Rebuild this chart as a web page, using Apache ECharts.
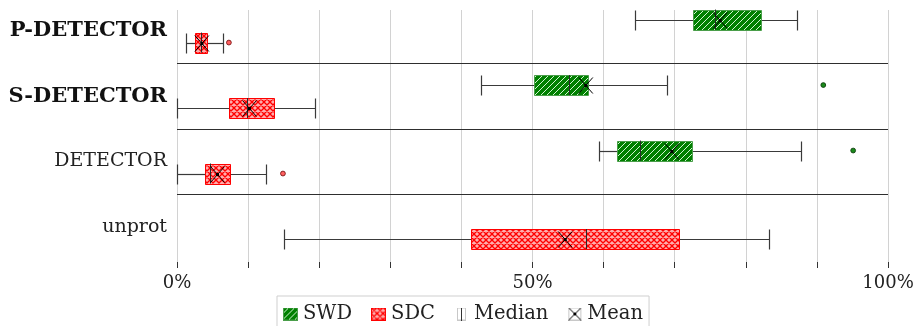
<!DOCTYPE html>
<html>
<head>
<meta charset="utf-8">
<script src="https://cdn.jsdelivr.net/npm/echarts@6/dist/echarts.min.js"></script>
<style>
  html, body { margin: 0; padding: 0; background: #fff; }
  #chart { width: 914px; height: 326px; }
</style>
</head>
<body>
<div id="chart"></div>
<script>
// Rows, top to bottom
const CATEGORIES = ['P-DETECTOR', 'S-DETECTOR', 'DETECTOR', 'unprot'];
const BOLD_CATEGORIES = ['P-DETECTOR', 'S-DETECTOR'];

// Five-number summaries per row: [low whisker, Q1, median, Q3, high whisker] (percent)
const SWD_STATS = [
  [64.4, 72.6, 75.7, 82.1, 87.2],
  [42.7, 50.2, 55.1, 57.8, 68.9],
  [59.4, 61.9, 65.1, 72.4, 87.7],
  null
];
const SWD_MEANS = [76.4, 57.5, 69.6, null];
const SWD_OUTLIERS = [[1, 90.9], [2, 95.1]];

const SDC_STATS = [
  [1.2, 2.5, 3.4, 4.2, 6.4],
  [0.0, 7.3, 9.8, 13.6, 19.4],
  [0.0, 4.0, 4.7, 7.5, 12.5],
  [15.0, 41.4, 57.5, 70.6, 83.2]
];
const SDC_MEANS = [3.5, 10.2, 5.7, 54.6];
const SDC_OUTLIERS = [[0, 7.3], [2, 14.9]];

// Axis labels and row dividers
const X_LABELED_TICKS = [0, 50, 100];
const ROW_DIVIDERS = [0.5, 1.5, 2.5];

const FONT = 'DejaVu Serif';
const BOX_H = 20;            // box height in px
const GROUP_OFFSET = [-11, 12]; // SWD above, SDC below the row centre
const WHISKER = '#3a3a3a';

// ---- fill patterns ----
function hatchCanvas() {
  const c = document.createElement('canvas');
  c.width = 6; c.height = 6;
  const g = c.getContext('2d');
  g.fillStyle = '#008000';
  g.fillRect(0, 0, 6, 6);
  g.strokeStyle = 'rgba(230,255,230,0.9)';
  g.lineWidth = 1;
  g.beginPath();
  g.moveTo(0, 6); g.lineTo(6, 0);
  g.moveTo(-1, 1); g.lineTo(1, -1);
  g.moveTo(5, 7); g.lineTo(7, 5);
  g.stroke();
  return c;
}
function crossCanvas() {
  const c = document.createElement('canvas');
  c.width = 6; c.height = 6;
  const g = c.getContext('2d');
  g.fillStyle = '#ffadad';
  g.fillRect(0, 0, 6, 6);
  g.strokeStyle = '#ff0000';
  g.lineWidth = 1.35;
  g.beginPath();
  g.moveTo(0, 6); g.lineTo(6, 0);
  g.moveTo(0, 0); g.lineTo(6, 6);
  g.moveTo(-1, 1); g.lineTo(1, -1);
  g.moveTo(5, 7); g.lineTo(7, 5);
  g.moveTo(-1, 5); g.lineTo(1, 7);
  g.moveTo(5, -1); g.lineTo(7, 1);
  g.stroke();
  return c;
}
const SWD_FILL = { image: hatchCanvas(), repeat: 'repeat' };
const SDC_FILL = { image: crossCanvas(), repeat: 'repeat' };
const SWD_STROKE = '#4a9e4a';
const SDC_STROKE = '#ff0000';

// ---- legend icons ----
function iconCanvas(draw) {
  const c = document.createElement('canvas');
  c.width = 15; c.height = 13;
  draw(c.getContext('2d'), 15, 13);
  return 'image://' + c.toDataURL();
}
const ICON_SWD = iconCanvas((g, w, h) => {
  g.fillStyle = g.createPattern(hatchCanvas(), 'repeat');
  g.fillRect(0, 0, w, h);
  g.strokeStyle = SWD_STROKE; g.strokeRect(0.5, 0.5, w - 1, h - 1);
});
const ICON_SDC = iconCanvas((g, w, h) => {
  g.fillStyle = g.createPattern(crossCanvas(), 'repeat');
  g.fillRect(0, 0, w, h);
  g.strokeStyle = SDC_STROKE; g.strokeRect(0.5, 0.5, w - 1, h - 1);
});
const ICON_MEDIAN = iconCanvas((g, w, h) => {
  g.fillStyle = '#fff'; g.fillRect(0, 0, w, h);
  g.strokeStyle = '#c8c8c8'; g.strokeRect(3.5, 0.5, w - 7, h - 1);
  g.strokeStyle = '#333'; g.beginPath(); g.moveTo(7.5, 0); g.lineTo(7.5, h); g.stroke();
});
const ICON_MEAN = iconCanvas((g, w, h) => {
  g.fillStyle = '#fff'; g.fillRect(0, 0, w, h);
  g.strokeStyle = '#c8c8c8'; g.strokeRect(1.5, 0.5, w - 3, h - 1);
  g.strokeStyle = '#000'; g.lineWidth = 1;
  g.beginPath(); g.moveTo(1.5, 0.5); g.lineTo(w - 1.5, h - 0.5);
  g.moveTo(w - 1.5, 0.5); g.lineTo(1.5, h - 0.5); g.stroke();
  g.fillStyle = '#000'; g.fillRect(6, 5, 3, 3);
});

// ---- series data built from the arrays above ----
function boxData(stats) {
  const out = [];
  stats.forEach((s, row) => { if (s) out.push([row].concat(s)); });
  return out;
}
function pointData(list, group) {
  const out = [];
  list.forEach((v, row) => { if (v != null) out.push([row, v, group]); });
  return out;
}
const medianData = pointData(SWD_STATS.map(s => s ? s[2] : null), 0)
  .concat(pointData(SDC_STATS.map(s => s ? s[2] : null), 1));
const meanData = pointData(SWD_MEANS, 0).concat(pointData(SDC_MEANS, 1));

const crisp = v => Math.round(v) + 0.5;

function boxRenderer(group, fill, stroke) {
  return function (params, api) {
    const row = api.value(0);
    const y = crisp(api.coord([0, row])[1] + GROUP_OFFSET[group]);
    const px = i => crisp(api.coord([api.value(i), row])[0]);
    const lo = px(1), q1 = px(2), q3 = px(4), hi = px(5);
    const h = BOX_H / 2;
    const ls = { stroke: WHISKER, lineWidth: 1.2 };
    return {
      type: 'group',
      children: [
        { type: 'line', shape: { x1: lo, y1: y, x2: q1, y2: y }, style: ls },
        { type: 'line', shape: { x1: q3, y1: y, x2: hi, y2: y }, style: ls },
        { type: 'line', shape: { x1: lo, y1: y - h, x2: lo, y2: y + h }, style: ls },
        { type: 'line', shape: { x1: hi, y1: y - h, x2: hi, y2: y + h }, style: ls },
        { type: 'rect', shape: { x: q1, y: y - h, width: q3 - q1, height: 2 * h },
          style: { fill: fill, stroke: stroke, lineWidth: 1 } }
      ]
    };
  };
}
function outlierRenderer(group, fill, stroke) {
  return function (params, api) {
    const p = api.coord([api.value(1), api.value(0)]);
    return {
      type: 'circle',
      shape: { cx: p[0], cy: p[1] + GROUP_OFFSET[group], r: 2.4 },
      style: { fill: fill, stroke: stroke, lineWidth: 0.9 }
    };
  };
}
function medianRenderer(params, api) {
  const row = api.value(0);
  const g = api.value(2);
  const x = crisp(api.coord([api.value(1), row])[0]);
  const y = api.coord([0, row])[1] + GROUP_OFFSET[g];
  return {
    type: 'line',
    shape: { x1: x, y1: y - BOX_H / 2, x2: x, y2: y + BOX_H / 2 },
    style: { stroke: '#2a2a2a', lineWidth: 1 }
  };
}
function meanRenderer(params, api) {
  const row = api.value(0);
  const g = api.value(2);
  const x = api.coord([api.value(1), row])[0];
  const y = Math.round(api.coord([0, row])[1] + GROUP_OFFSET[g]) + 0.5;
  const dx = 7, dy = 8;
  const ls = { stroke: '#000', lineWidth: 1 };
  return {
    type: 'group',
    children: [
      { type: 'line', shape: { x1: x - dx, y1: y - dy, x2: x + dx, y2: y + dy }, style: ls },
      { type: 'line', shape: { x1: x + dx, y1: y - dy, x2: x - dx, y2: y + dy }, style: ls },
      { type: 'rect', shape: { x: x - 1.5, y: y - 1.5, width: 3, height: 3 }, style: { fill: '#000' } }
    ]
  };
}

const chart = echarts.init(document.getElementById('chart'), null, { renderer: 'canvas' });
chart.setOption({
  animation: false,
  backgroundColor: '#fff',
  grid: { left: 177, right: 26, top: 10, bottom: 64, outerBoundsMode: 'none', containLabel: false },
  xAxis: {
    type: 'value', min: 0, max: 100, interval: 10,
    axisLine: { show: false, onZero: false },
    axisTick: { show: true, length: 6, lineStyle: { color: '#333', width: 1 } },
    splitLine: { show: true, lineStyle: { color: '#d2d2d2', width: 1 } },
    axisLabel: {
      margin: 12,
      fontFamily: FONT, fontSize: 18, color: '#222',
      formatter: v => X_LABELED_TICKS.indexOf(v) >= 0 ? v + '%' : ''
    }
  },
  yAxis: {
    type: 'value', inverse: true, min: -0.314, max: 3.534,
    axisLine: { show: false }, axisTick: { show: false }, splitLine: { show: false },
    axisLabel: {
      customValues: CATEGORIES.map((c, i) => i),
      margin: 10,
      formatter: v => {
        const name = CATEGORIES[v];
        if (name == null) return '';
        return BOLD_CATEGORIES.indexOf(name) >= 0 ? '{b|' + name + '}' : '{n|' + name + '}';
      },
      rich: {
        b: { fontFamily: FONT, fontSize: 21, fontWeight: 'bold', color: '#111' },
        n: { fontFamily: FONT, fontSize: 19, color: '#222' }
      }
    }
  },
  legend: {
    left: 277, top: 296,
    itemWidth: 15, itemHeight: 13, itemGap: 19,
    padding: [8, 6, 10, 6],
    borderColor: '#cfcfcf', borderWidth: 1,
    textStyle: { fontFamily: FONT, fontSize: 19.5, color: '#222' },
    data: [
      { name: 'SWD', icon: ICON_SWD },
      { name: 'SDC', icon: ICON_SDC },
      { name: 'Median', icon: ICON_MEDIAN },
      { name: 'Mean', icon: ICON_MEAN }
    ]
  },
  series: [
    {
      name: 'SWD', type: 'custom', z: 2,
      renderItem: boxRenderer(0, SWD_FILL, SWD_STROKE),
      data: boxData(SWD_STATS)
    },
    {
      name: 'SDC', type: 'custom', z: 2,
      renderItem: boxRenderer(1, SDC_FILL, SDC_STROKE),
      data: boxData(SDC_STATS),
      markLine: {
        silent: true, symbol: 'none', animation: false,
        label: { show: false },
        lineStyle: { color: '#2e2e2e', width: 1.2, type: 'solid' },
        data: ROW_DIVIDERS.map(v => ({ yAxis: v }))
      }
    },
    {
      name: 'SWD', type: 'custom', z: 3,
      renderItem: outlierRenderer(0, '#1a8a1a', '#0b3d0b'),
      data: SWD_OUTLIERS
    },
    {
      name: 'SDC', type: 'custom', z: 3,
      renderItem: outlierRenderer(1, '#ff6060', '#7a1010'),
      data: SDC_OUTLIERS
    },
    {
      name: 'Median', type: 'custom', z: 4,
      renderItem: medianRenderer,
      data: medianData
    },
    {
      name: 'Mean', type: 'custom', z: 5,
      renderItem: meanRenderer,
      data: meanData
    }
  ]
});
</script>
</body>
</html>
